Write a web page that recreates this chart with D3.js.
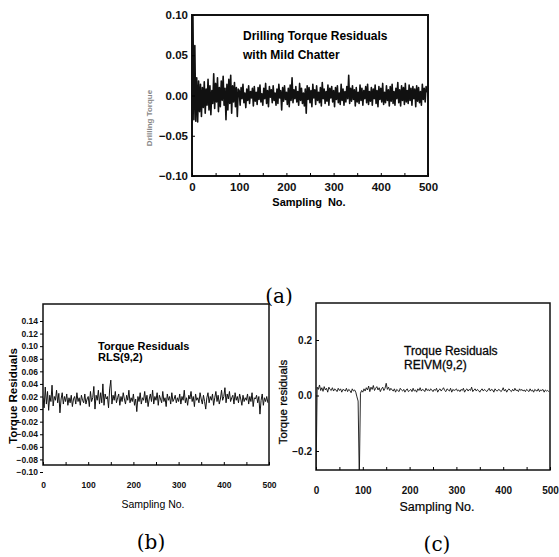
<!DOCTYPE html>
<html>
<head>
<meta charset="utf-8">
<script src="https://cdn.jsdelivr.net/npm/d3@7"></script>
<style>
  body { margin: 0; background: #fff; }
  svg { display: block; font-family: "Liberation Sans", Arial, sans-serif; }
</style>
</head>
<body>
<div id="chart"></div>
<script>
// tick labels
const sampleTicks = [0, 50, 100, 150, 200, 250, 300, 350, 400, 450, 500];
const drillTicks = [-0.10, -0.05, 0.00, 0.05, 0.10];
const rlsTicks = [-0.10, -0.08, -0.06, -0.04, -0.02, 0.00, 0.02, 0.04, 0.06, 0.08, 0.10, 0.12, 0.14];
const reivmTicks = [-0.2, 0.0, 0.2];

// residuals, in thousandths; one value every `step` samples
const drillStep = 2;
const drillMilli = [
  -25, 98, -30, 62, -32, 22, -33, 18, -20, 14, -26, 10, -15, 17, -22, 8, -12, 20, -18, 12,
  -24, 6, -10, 27, -16, 15, -8, 22, -20, 10, -14, 18, -6, 24, -12, 9, -30, 14, -18, 20,
  -10, 25, -22, 12, -8, 16, -14, 10, -26, 8,
  6, -12, 10, -4, 14, -9, 3, -15, 8, -6, 12, -10, 5, -3, 9, -13, 11, -7, 4, -11,
  10, -5, 13, -8, 2, -12, 9, -4, 15, -10, 6, -14, 11, -2, 7, -9, 12, -6, 3, -12,
  8, -10, 14, -3, 6, -18, 10, -7, 12, -5, 4, -11, 9, -14, 13, -6, 22, -9, 7, -4,
  11, -8, 5, -12, 15, -6, 9, -10, 3, -13, 8, -22, 12, -5, 10, -9, 6, -14, 14, -3,
  7, -11, 12, -6, 4, -9, 10, -13, 16, -4, 8, -10, 5, -7, 13, -12, 9, -3, 11, -8,
  6, -14, 10, -5, 12, -9, 3, -11, 14, -6, 8, -12, 5, -8, 11, -4, 25, -10, 9, -7,
  12, -5, 7, -13, 10, -8, 4, -10, 13, -6, 9, -12, 6, -4, 11, -9, 14, -11, 5, -7,
  10, -12, 8, -4, 13, -10, 6, -14, 11, -5, 9, -8, 15, -11, 4, -9, 12, -6, 7, -13,
  11, -7, 14, -10, 5, -12, 9, -4, 16, -9, 7, -13, 12, -6, 10, -11, 15, -8, 6, -10,
  13, -6, 9, -12, 11, -4, 8, -14, 12, -7, 10, -9, 5, -12, 14, -5, 9, -8, 11, 4
];

const rlsStep = 2.5;
const rlsMilli = [
  18, 2, 35, 8, 28, -2, 22, 12, 38, 5, 20, 14, 30, 10, 25, -6, 16, 26, 8, 20,
  12, 24, 6, 18, 10, 22, 4, 16, 20, 8, 26, 12, 18, 6, 22, 14, 10, 24, 8, 16,
  20, 4, 28, 12, 18, 36, 0, 22, 14, 30, 8, 26, 10, 40, 6, 24, 16, 20, 2, 32,
  46, 8, 22, 14, 28, 10, 18, 24, 6, 20, 12, 26, 16, 8, 22, 14, 30, 10, 18, 12,
  24, 6, 16, -4, 20, 12, 26, 8, 18, 14, 28, 10, 22, 4, 16, 24, 12, 30, 8, 20,
  14, 26, 6, 22, 16, 10, 28, 12, 18, 4, 24, 14, 20, 8, 26, 12, 16, 22, 10, 18,
  12, 24, 8, 20, 14, 30, 10, 18, 6, 22, 16, 28, 12, 20, 4, 24, 14, 18, 10, 26,
  16, 8, 22, 12, 0, 18, 26, 10, 20, 14, 24, 6, 18, 28, 12, 22, 8, 16, 30, 14,
  20, 34, 10, 24, 16, 28, 12, 18, 22, 8, 26, 14, 20, 10, 24, 16, 6, 22, 12, 18,
  14, 24, 8, 20, 12, 26, 4, 18, 16, 22, 10, 20, -8, 14, 24, 6, 18, 12, 20, 10
];

const reivmStep = 2.5;
const reivmMilli = [
  -300, 30, 22, 38, 18, 28, 15, 32, 20, 26, 12, 30, 22, 18, 28, 16, 24, 20, 14, 26,
  18, 24, 12, 22, 20, 16, 26, 14, 22, 18, 10, 24, 16, 20, 12, -5, -20, -300, 8, 18,
  12, 24, 16, 28, 20, 34, 14, 30, 22, 36, 18, 26, 32, 20, 28, 14, 24, 30, 18, 26,
  44, 22, 30, 18, 26, 20, 16, 24, 12, 22, 18, 14, 26, 20, 16, 22, 12, 20, 24, 14,
  18, 22, 14, 26, 16, 20, 12, 24, 18, 28, 16, 22, 20, 14, 26, 18, 22, 16, 24, 20,
  14, 22, 18, 26, 12, 20, 24, 16, 22, 28, 18, 14, 24, 20, 16, 26, 12, 22, 18, 20,
  24, 16, 20, 14, 22, 18, 26, 12, 20, 24, 16, 22, 18, 30, 14, 20, 24, 16, 22, 18,
  12, 20, 24, 16, 22, 18, 14, 20, 26, 16, 22, 20, 12, 24, 18, 16, 22, 20, 14, 18,
  28, 16, 22, 12, 20, 24, 18, 14, 22, 16, 26, 18, 20, 14, 24, 18, 22, 16, 20, 14,
  22, 18, 14, 24, 16, 20, 12, 22, 18, 16, 24, 14, 20, 18, 22, 12, 20, 16, 18, 14
];

const svg = d3.select('#chart')
  .append('svg')
    .attr('width', 559)
    .attr('height', 557);

const drawPanel = (p) => {
  const x = d3.scaleLinear().domain([0, 500]).range([p.left, p.right]);
  const y = d3.scaleLinear().domain(p.yDomain).range(p.yRange);
  const g = svg.append('g');

  g.append('clipPath')
      .attr('id', 'clip-' + p.id)
    .append('rect')
      .attr('x', p.left)
      .attr('y', p.top - 1)
      .attr('width', p.right - p.left)
      .attr('height', p.bottom - p.top + 1);

  g.append('path')
    .datum(p.values)
    .attr('clip-path', `url(#clip-${p.id})`)
    .attr('fill', 'none')
    .attr('stroke', '#111')
    .attr('stroke-width', p.lineWidth)
    .attr('stroke-linejoin', 'round')
    .attr('d', d3.line()
      .x((d, i) => x(i * p.step))
      .y(d => y(d / 1000)));

  g.append('rect')
    .attr('x', p.left)
    .attr('y', p.top)
    .attr('width', p.right - p.left)
    .attr('height', p.bottom - p.top)
    .attr('fill', 'none')
    .attr('stroke', '#111')
    .attr('stroke-width', p.frameWidth);

  const xAxis = g.append('g')
    .attr('transform', `translate(0,${p.bottom})`)
    .call(d3.axisBottom(x)
      .tickValues(sampleTicks)
      .tickFormat(d => d % 100 === 0 ? d : '')
      .tickSizeInner(-3)
      .tickSizeOuter(0)
      .tickPadding(p.xPad));
  xAxis.select('.domain').remove();
  xAxis.selectAll('text')
    .style('font-size', p.xFont + 'px')
    .style('font-weight', 'bold')
    .style('font-family', '"Liberation Sans", Arial, sans-serif')
    .attr('fill', '#111');

  const yAxis = g.append('g')
    .attr('transform', `translate(${p.left},0)`)
    .call(d3.axisLeft(y)
      .tickValues(p.yTicks)
      .tickFormat(d3.format(p.yFormat))
      .tickSizeInner(p.yTick)
      .tickSizeOuter(0)
      .tickPadding(p.yPad));
  yAxis.select('.domain').remove();
  yAxis.selectAll('text')
    .style('font-size', p.yFont + 'px')
    .style('font-weight', 'bold')
    .style('font-family', '"Liberation Sans", Arial, sans-serif')
    .attr('fill', '#111');

  return g;
};

// (a) drilling torque residuals
const ga = drawPanel({
  id: 'a', left: 192, right: 428, top: 15, bottom: 176,
  yDomain: [-0.10, 0.10], yRange: [176, 15], yTicks: drillTicks, yFormat: '.2f',
  values: drillMilli, step: drillStep, lineWidth: 1.6, frameWidth: 2,
  xFont: 11.5, xPad: 7, yFont: 11.5, yTick: -3, yPad: 4,
});
ga.append('text').attr('x', 243).attr('y', 40)
  .style('font-size', '12px').style('font-weight', 'bold')
  .text('Drilling Torque Residuals');
ga.append('text').attr('x', 243).attr('y', 59)
  .style('font-size', '12px').style('font-weight', 'bold')
  .text('with Mild Chatter');
ga.append('text')
  .attr('transform', 'translate(152,118) rotate(-90)')
  .attr('text-anchor', 'middle')
  .attr('fill', '#888')
  .style('font-size', '8px').style('font-weight', 'bold')
  .text('Drilling Torque');
ga.append('text').attr('x', 309).attr('y', 206)
  .attr('text-anchor', 'middle')
  .style('font-size', '11px').style('font-weight', 'bold').style('word-spacing', '3px')
  .text('Sampling No.');

// (b) RLS(9,2)
const gb = drawPanel({
  id: 'b', left: 43, right: 269, top: 304, bottom: 465,
  yDomain: [-0.10, 0.14], yRange: [472, 321], yTicks: rlsTicks, yFormat: '.2f',
  values: rlsMilli, step: rlsStep, lineWidth: 1, frameWidth: 1.5,
  xFont: 8.5, xPad: 17, yFont: 8.5, yTick: 3, yPad: 2,
});
gb.append('text').attr('x', 98).attr('y', 350)
  .style('font-size', '11px').style('font-weight', 'bold')
  .text('Torque Residuals');
gb.append('text').attr('x', 98).attr('y', 361)
  .style('font-size', '11px').style('font-weight', 'bold')
  .text('RLS(9,2)');
gb.append('text')
  .attr('transform', 'translate(17,396) rotate(-90)')
  .attr('text-anchor', 'middle')
  .style('font-size', '11.5px').style('font-weight', 'bold')
  .text('Torque Residuals');
gb.append('text').attr('x', 153).attr('y', 508)
  .attr('text-anchor', 'middle')
  .style('font-size', '10.5px')
  .text('Sampling No.');

// (c) REIVM(9,2)
const gc = drawPanel({
  id: 'c', left: 316, right: 550, top: 303, bottom: 470,
  yDomain: [-0.2, 0.2], yRange: [451, 340], yTicks: reivmTicks, yFormat: '.1f',
  values: reivmMilli, step: reivmStep, lineWidth: 0.9, frameWidth: 1.5,
  xFont: 10, xPad: 17, yFont: 10, yTick: -3, yPad: 4,
});
gc.append('text').attr('x', 404).attr('y', 355)
  .style('font-size', '12px').attr('stroke', '#111').attr('stroke-width', 0.3)
  .text('Troque Residuals');
gc.append('text').attr('x', 404).attr('y', 369)
  .style('font-size', '12px').attr('stroke', '#111').attr('stroke-width', 0.3)
  .text('REIVM(9,2)');
gc.append('text')
  .attr('transform', 'translate(287,402) rotate(-90)')
  .attr('text-anchor', 'middle')
  .style('font-size', '11.5px').attr('stroke', '#111').attr('stroke-width', 0.3)
  .text('Torque residuals');
gc.append('text').attr('x', 437).attr('y', 511)
  .attr('text-anchor', 'middle')
  .style('font-size', '12.5px').attr('stroke', '#111').attr('stroke-width', 0.2)
  .text('Sampling No.');

// sub-figure captions
const captions = [
  { t: '(a)', x: 279, y: 303 },
  { t: '(b)', x: 151, y: 549 },
  { t: '(c)', x: 437, y: 551 },
];
svg.selectAll('text.caption')
  .data(captions)
  .enter()
  .append('text')
    .attr('class', 'caption')
    .attr('x', d => d.x)
    .attr('y', d => d.y)
    .attr('text-anchor', 'middle')
    .style('font-family', '"DejaVu Serif", "Liberation Serif", serif')
    .style('font-size', '20px')
    .text(d => d.t);
</script>
</body>
</html>
